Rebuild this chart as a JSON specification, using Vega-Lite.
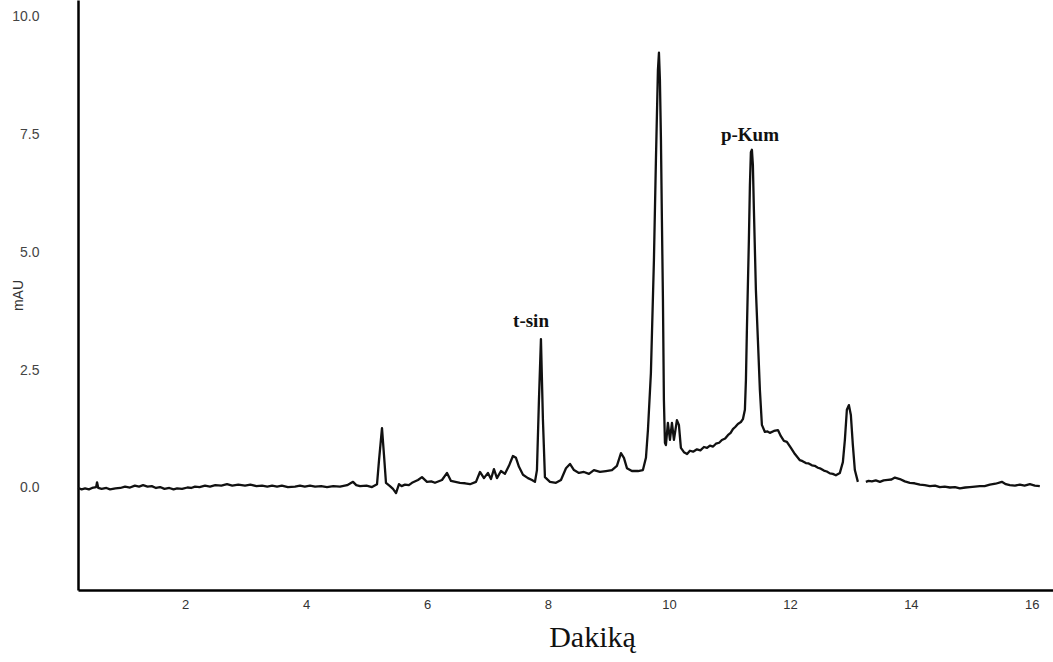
{
  "$schema": "https://vega.github.io/schema/vega-lite/v6.json",
  "width": 975,
  "height": 590,
  "autosize": {"type": "none"},
  "padding": {"left": 78, "top": 0, "right": 0, "bottom": 72},
  "background": "white",
  "config": {
    "view": {"stroke": null},
    "axis": {"grid": false, "ticks": false, "domainColor": "#000000", "domainWidth": 2.5}
  },
  "datasets": {
    "trace": [
      {"t": 0.231, "v": 0.0, "seg": 1},
      {"t": 0.29, "v": -0.03, "seg": 1},
      {"t": 0.347, "v": -0.01, "seg": 1},
      {"t": 0.41, "v": -0.03, "seg": 1},
      {"t": 0.463, "v": 0.0, "seg": 1},
      {"t": 0.53, "v": 0.02, "seg": 1},
      {"t": 0.545, "v": 0.12, "seg": 1},
      {"t": 0.565, "v": 0.0, "seg": 1},
      {"t": 0.62, "v": -0.02, "seg": 1},
      {"t": 0.7, "v": 0.0, "seg": 1},
      {"t": 0.76, "v": -0.03, "seg": 1},
      {"t": 0.85, "v": -0.01, "seg": 1},
      {"t": 0.93, "v": 0.0, "seg": 1},
      {"t": 1.008, "v": 0.03, "seg": 1},
      {"t": 1.09, "v": 0.01, "seg": 1},
      {"t": 1.17, "v": 0.05, "seg": 1},
      {"t": 1.24, "v": 0.03, "seg": 1},
      {"t": 1.306, "v": 0.06, "seg": 1},
      {"t": 1.38, "v": 0.03, "seg": 1},
      {"t": 1.45, "v": 0.04, "seg": 1},
      {"t": 1.52, "v": 0.0, "seg": 1},
      {"t": 1.587, "v": 0.02, "seg": 1},
      {"t": 1.66, "v": -0.02, "seg": 1},
      {"t": 1.74, "v": 0.0, "seg": 1},
      {"t": 1.81, "v": -0.03, "seg": 1},
      {"t": 1.868, "v": -0.01, "seg": 1},
      {"t": 1.95, "v": -0.02, "seg": 1},
      {"t": 2.04, "v": 0.01, "seg": 1},
      {"t": 2.1, "v": 0.0, "seg": 1},
      {"t": 2.165, "v": 0.03, "seg": 1},
      {"t": 2.24, "v": 0.02, "seg": 1},
      {"t": 2.33, "v": 0.05, "seg": 1},
      {"t": 2.413, "v": 0.03, "seg": 1},
      {"t": 2.5, "v": 0.06, "seg": 1},
      {"t": 2.6, "v": 0.05, "seg": 1},
      {"t": 2.694, "v": 0.08, "seg": 1},
      {"t": 2.78, "v": 0.05, "seg": 1},
      {"t": 2.88, "v": 0.07, "seg": 1},
      {"t": 2.992, "v": 0.05, "seg": 1},
      {"t": 3.08, "v": 0.07, "seg": 1},
      {"t": 3.18, "v": 0.04, "seg": 1},
      {"t": 3.273, "v": 0.05, "seg": 1},
      {"t": 3.36, "v": 0.03, "seg": 1},
      {"t": 3.44, "v": 0.05, "seg": 1},
      {"t": 3.521, "v": 0.03, "seg": 1},
      {"t": 3.6, "v": 0.05, "seg": 1},
      {"t": 3.7, "v": 0.02, "seg": 1},
      {"t": 3.818, "v": 0.03, "seg": 1},
      {"t": 3.9, "v": 0.05, "seg": 1},
      {"t": 3.98, "v": 0.03, "seg": 1},
      {"t": 4.066, "v": 0.05, "seg": 1},
      {"t": 4.15, "v": 0.03, "seg": 1},
      {"t": 4.25, "v": 0.04, "seg": 1},
      {"t": 4.347, "v": 0.02, "seg": 1},
      {"t": 4.45, "v": 0.04, "seg": 1},
      {"t": 4.562, "v": 0.03, "seg": 1},
      {"t": 4.68, "v": 0.06, "seg": 1},
      {"t": 4.777, "v": 0.13, "seg": 1},
      {"t": 4.83, "v": 0.06, "seg": 1},
      {"t": 4.893, "v": 0.04, "seg": 1},
      {"t": 5.0, "v": 0.05, "seg": 1},
      {"t": 5.091, "v": 0.02, "seg": 1},
      {"t": 5.174, "v": 0.08, "seg": 1},
      {"t": 5.207, "v": 0.59, "seg": 1},
      {"t": 5.256, "v": 1.27, "seg": 1},
      {"t": 5.289, "v": 0.7, "seg": 1},
      {"t": 5.322, "v": 0.11, "seg": 1},
      {"t": 5.388, "v": 0.04, "seg": 1},
      {"t": 5.438, "v": -0.02, "seg": 1},
      {"t": 5.488, "v": -0.11, "seg": 1},
      {"t": 5.537, "v": 0.08, "seg": 1},
      {"t": 5.58, "v": 0.04, "seg": 1},
      {"t": 5.636, "v": 0.07, "seg": 1},
      {"t": 5.7, "v": 0.06, "seg": 1},
      {"t": 5.752, "v": 0.11, "seg": 1},
      {"t": 5.851, "v": 0.17, "seg": 1},
      {"t": 5.917, "v": 0.23, "seg": 1},
      {"t": 6.0, "v": 0.13, "seg": 1},
      {"t": 6.07, "v": 0.14, "seg": 1},
      {"t": 6.132, "v": 0.11, "seg": 1},
      {"t": 6.248, "v": 0.17, "seg": 1},
      {"t": 6.331, "v": 0.32, "seg": 1},
      {"t": 6.397, "v": 0.15, "seg": 1},
      {"t": 6.47, "v": 0.13, "seg": 1},
      {"t": 6.545, "v": 0.11, "seg": 1},
      {"t": 6.63, "v": 0.1, "seg": 1},
      {"t": 6.711, "v": 0.08, "seg": 1},
      {"t": 6.81, "v": 0.13, "seg": 1},
      {"t": 6.876, "v": 0.34, "seg": 1},
      {"t": 6.942, "v": 0.21, "seg": 1},
      {"t": 7.008, "v": 0.32, "seg": 1},
      {"t": 7.058, "v": 0.19, "seg": 1},
      {"t": 7.107, "v": 0.4, "seg": 1},
      {"t": 7.157, "v": 0.21, "seg": 1},
      {"t": 7.223, "v": 0.36, "seg": 1},
      {"t": 7.289, "v": 0.3, "seg": 1},
      {"t": 7.355, "v": 0.47, "seg": 1},
      {"t": 7.421, "v": 0.68, "seg": 1},
      {"t": 7.471, "v": 0.64, "seg": 1},
      {"t": 7.521, "v": 0.45, "seg": 1},
      {"t": 7.587, "v": 0.28, "seg": 1},
      {"t": 7.669, "v": 0.21, "seg": 1},
      {"t": 7.736, "v": 0.17, "seg": 1},
      {"t": 7.785, "v": 0.13, "seg": 1},
      {"t": 7.818, "v": 0.38, "seg": 1},
      {"t": 7.851, "v": 1.87, "seg": 1},
      {"t": 7.884, "v": 3.16, "seg": 1},
      {"t": 7.917, "v": 1.44, "seg": 1},
      {"t": 7.95, "v": 0.23, "seg": 1},
      {"t": 8.033, "v": 0.13, "seg": 1},
      {"t": 8.132, "v": 0.11, "seg": 1},
      {"t": 8.215, "v": 0.17, "seg": 1},
      {"t": 8.298, "v": 0.42, "seg": 1},
      {"t": 8.364, "v": 0.51, "seg": 1},
      {"t": 8.43, "v": 0.38, "seg": 1},
      {"t": 8.512, "v": 0.32, "seg": 1},
      {"t": 8.595, "v": 0.34, "seg": 1},
      {"t": 8.678, "v": 0.3, "seg": 1},
      {"t": 8.76, "v": 0.38, "seg": 1},
      {"t": 8.86, "v": 0.34, "seg": 1},
      {"t": 8.959, "v": 0.36, "seg": 1},
      {"t": 9.058, "v": 0.38, "seg": 1},
      {"t": 9.14, "v": 0.47, "seg": 1},
      {"t": 9.207, "v": 0.74, "seg": 1},
      {"t": 9.256, "v": 0.64, "seg": 1},
      {"t": 9.306, "v": 0.42, "seg": 1},
      {"t": 9.388, "v": 0.36, "seg": 1},
      {"t": 9.488, "v": 0.36, "seg": 1},
      {"t": 9.57, "v": 0.38, "seg": 1},
      {"t": 9.62, "v": 0.64, "seg": 1},
      {"t": 9.653, "v": 1.23, "seg": 1},
      {"t": 9.702, "v": 2.44, "seg": 1},
      {"t": 9.752, "v": 4.84, "seg": 1},
      {"t": 9.785, "v": 6.96, "seg": 1},
      {"t": 9.818, "v": 8.87, "seg": 1},
      {"t": 9.835, "v": 9.24, "seg": 1},
      {"t": 9.851, "v": 8.66, "seg": 1},
      {"t": 9.868, "v": 7.39, "seg": 1},
      {"t": 9.884, "v": 5.69, "seg": 1},
      {"t": 9.901, "v": 3.99, "seg": 1},
      {"t": 9.917, "v": 1.87, "seg": 1},
      {"t": 9.934, "v": 0.96, "seg": 1},
      {"t": 9.95, "v": 0.91, "seg": 1},
      {"t": 9.983, "v": 1.38, "seg": 1},
      {"t": 10.017, "v": 1.02, "seg": 1},
      {"t": 10.05, "v": 1.38, "seg": 1},
      {"t": 10.083, "v": 1.02, "seg": 1},
      {"t": 10.132, "v": 1.44, "seg": 1},
      {"t": 10.165, "v": 1.34, "seg": 1},
      {"t": 10.198, "v": 0.85, "seg": 1},
      {"t": 10.248, "v": 0.76, "seg": 1},
      {"t": 10.3, "v": 0.72, "seg": 1},
      {"t": 10.347, "v": 0.79, "seg": 1},
      {"t": 10.4, "v": 0.77, "seg": 1},
      {"t": 10.463, "v": 0.82, "seg": 1},
      {"t": 10.52, "v": 0.8, "seg": 1},
      {"t": 10.579, "v": 0.87, "seg": 1},
      {"t": 10.63, "v": 0.85, "seg": 1},
      {"t": 10.678, "v": 0.9, "seg": 1},
      {"t": 10.73, "v": 0.88, "seg": 1},
      {"t": 10.777, "v": 0.94, "seg": 1},
      {"t": 10.83, "v": 0.96, "seg": 1},
      {"t": 10.876, "v": 1.02, "seg": 1},
      {"t": 10.93, "v": 1.05, "seg": 1},
      {"t": 10.975, "v": 1.12, "seg": 1},
      {"t": 11.02, "v": 1.17, "seg": 1},
      {"t": 11.058, "v": 1.25, "seg": 1},
      {"t": 11.1, "v": 1.3, "seg": 1},
      {"t": 11.14, "v": 1.36, "seg": 1},
      {"t": 11.19, "v": 1.4, "seg": 1},
      {"t": 11.223, "v": 1.46, "seg": 1},
      {"t": 11.256, "v": 1.66, "seg": 1},
      {"t": 11.273, "v": 2.29, "seg": 1},
      {"t": 11.289, "v": 3.35, "seg": 1},
      {"t": 11.322, "v": 5.27, "seg": 1},
      {"t": 11.339, "v": 6.43, "seg": 1},
      {"t": 11.355, "v": 7.13, "seg": 1},
      {"t": 11.372, "v": 7.18, "seg": 1},
      {"t": 11.388, "v": 6.86, "seg": 1},
      {"t": 11.405, "v": 5.9, "seg": 1},
      {"t": 11.438, "v": 4.2, "seg": 1},
      {"t": 11.471, "v": 3.14, "seg": 1},
      {"t": 11.504, "v": 2.08, "seg": 1},
      {"t": 11.537, "v": 1.34, "seg": 1},
      {"t": 11.587, "v": 1.19, "seg": 1},
      {"t": 11.63, "v": 1.2, "seg": 1},
      {"t": 11.669, "v": 1.17, "seg": 1},
      {"t": 11.736, "v": 1.21, "seg": 1},
      {"t": 11.802, "v": 1.23, "seg": 1},
      {"t": 11.851, "v": 1.1, "seg": 1},
      {"t": 11.901, "v": 1.0, "seg": 1},
      {"t": 11.95, "v": 0.98, "seg": 1},
      {"t": 12.017, "v": 0.85, "seg": 1},
      {"t": 12.083, "v": 0.72, "seg": 1},
      {"t": 12.165, "v": 0.59, "seg": 1},
      {"t": 12.21, "v": 0.57, "seg": 1},
      {"t": 12.264, "v": 0.53, "seg": 1},
      {"t": 12.31, "v": 0.52, "seg": 1},
      {"t": 12.364, "v": 0.48, "seg": 1},
      {"t": 12.41, "v": 0.47, "seg": 1},
      {"t": 12.463, "v": 0.43, "seg": 1},
      {"t": 12.51, "v": 0.41, "seg": 1},
      {"t": 12.562, "v": 0.37, "seg": 1},
      {"t": 12.61, "v": 0.35, "seg": 1},
      {"t": 12.661, "v": 0.31, "seg": 1},
      {"t": 12.71, "v": 0.3, "seg": 1},
      {"t": 12.76, "v": 0.27, "seg": 1},
      {"t": 12.826, "v": 0.32, "seg": 1},
      {"t": 12.876, "v": 0.55, "seg": 1},
      {"t": 12.909, "v": 1.02, "seg": 1},
      {"t": 12.942, "v": 1.66, "seg": 1},
      {"t": 12.975, "v": 1.76, "seg": 1},
      {"t": 13.008, "v": 1.55, "seg": 1},
      {"t": 13.041, "v": 0.91, "seg": 1},
      {"t": 13.074, "v": 0.38, "seg": 1},
      {"t": 13.124, "v": 0.13, "seg": 1},
      {"t": 13.256, "v": 0.13, "seg": 2},
      {"t": 13.3, "v": 0.15, "seg": 2},
      {"t": 13.355, "v": 0.14, "seg": 2},
      {"t": 13.42, "v": 0.16, "seg": 2},
      {"t": 13.488, "v": 0.13, "seg": 2},
      {"t": 13.55, "v": 0.16, "seg": 2},
      {"t": 13.62, "v": 0.17, "seg": 2},
      {"t": 13.68, "v": 0.18, "seg": 2},
      {"t": 13.736, "v": 0.22, "seg": 2},
      {"t": 13.818, "v": 0.19, "seg": 2},
      {"t": 13.9, "v": 0.14, "seg": 2},
      {"t": 13.983, "v": 0.11, "seg": 2},
      {"t": 14.06, "v": 0.1, "seg": 2},
      {"t": 14.149, "v": 0.07, "seg": 2},
      {"t": 14.23, "v": 0.06, "seg": 2},
      {"t": 14.314, "v": 0.04, "seg": 2},
      {"t": 14.4, "v": 0.05, "seg": 2},
      {"t": 14.479, "v": 0.02, "seg": 2},
      {"t": 14.56, "v": 0.03, "seg": 2},
      {"t": 14.645, "v": 0.01, "seg": 2},
      {"t": 14.73, "v": 0.02, "seg": 2},
      {"t": 14.81, "v": -0.01, "seg": 2},
      {"t": 14.9, "v": 0.01, "seg": 2},
      {"t": 14.975, "v": 0.02, "seg": 2},
      {"t": 15.06, "v": 0.03, "seg": 2},
      {"t": 15.14, "v": 0.04, "seg": 2},
      {"t": 15.22, "v": 0.04, "seg": 2},
      {"t": 15.306, "v": 0.07, "seg": 2},
      {"t": 15.4, "v": 0.09, "seg": 2},
      {"t": 15.504, "v": 0.13, "seg": 2},
      {"t": 15.57, "v": 0.08, "seg": 2},
      {"t": 15.636, "v": 0.06, "seg": 2},
      {"t": 15.72, "v": 0.05, "seg": 2},
      {"t": 15.802, "v": 0.07, "seg": 2},
      {"t": 15.88, "v": 0.05, "seg": 2},
      {"t": 15.967, "v": 0.08, "seg": 2},
      {"t": 16.05, "v": 0.05, "seg": 2},
      {"t": 16.132, "v": 0.04, "seg": 2}
    ],
    "labels": [
      {"t": 7.72, "v": 3.55, "label": "t-sin"},
      {"t": 11.34, "v": 7.49, "label": "p-Kum"}
    ]
  },
  "layer": [
    {
      "data": {"name": "trace"},
      "mark": {"type": "line", "color": "#111111", "strokeWidth": 2.3, "strokeJoin": "round"},
      "encoding": {
        "x": {
          "field": "t", "type": "quantitative",
          "scale": {"domain": [0.23, 16.35], "nice": false, "zero": false},
          "axis": {
            "title": "Dakiką", "values": [2, 4, 6, 8, 10, 12, 14, 16], "format": "d",
            "labelFont": "Liberation Sans", "labelFontSize": 13, "labelColor": "#333333", "labelPadding": 8,
            "titleFont": "Liberation Serif", "titleFontSize": 30, "titleFontWeight": "normal", "titleColor": "#111111",
            "titlePadding": 11, "titleX": 514
          }
        },
        "y": {
          "field": "v", "type": "quantitative",
          "scale": {"domain": [-2.166, 10.36], "nice": false, "zero": false},
          "axis": {
            "title": "mAU", "values": [0, 2.5, 5, 7.5, 10], "format": ".1f",
            "labelFont": "Liberation Sans", "labelFontSize": 14, "labelColor": "#444444", "labelPadding": 39,
            "titleFont": "Liberation Sans", "titleFontSize": 14, "titleFontWeight": "normal", "titleColor": "#333333",
            "titlePadding": -14
          }
        },
        "detail": {"field": "seg", "type": "nominal"}
      }
    },
    {
      "data": {"name": "labels"},
      "mark": {"type": "text", "font": "Liberation Serif", "fontSize": 19, "fontWeight": "bold", "color": "#111111", "align": "center", "baseline": "middle"},
      "encoding": {
        "x": {"field": "t", "type": "quantitative"},
        "y": {"field": "v", "type": "quantitative"},
        "text": {"field": "label"}
      }
    }
  ]
}
